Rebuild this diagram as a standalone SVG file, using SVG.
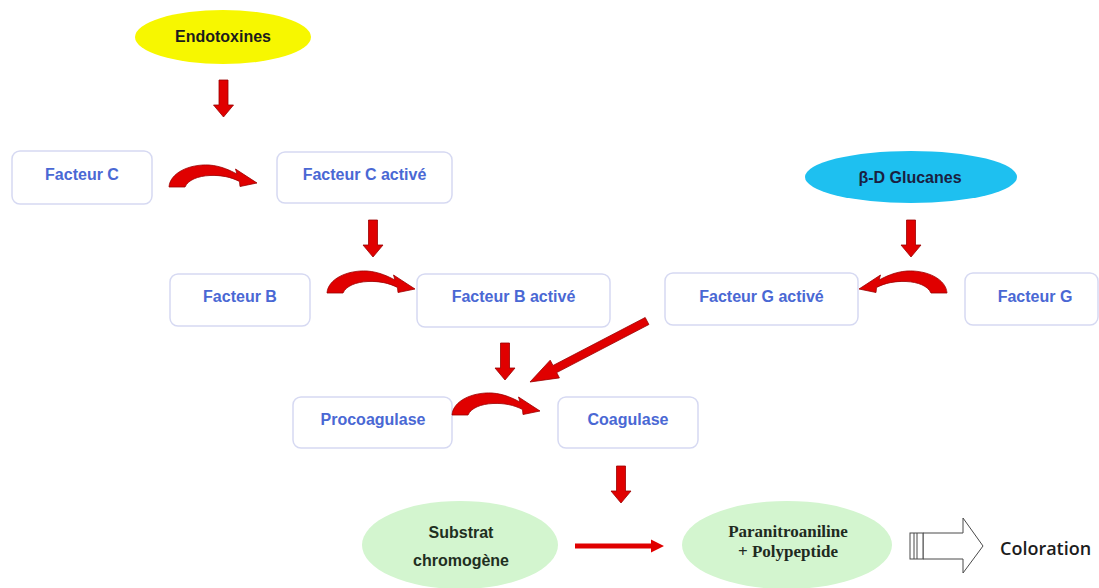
<svg xmlns="http://www.w3.org/2000/svg" xmlns:xlink="http://www.w3.org/1999/xlink" width="1099" height="588" viewBox="0 0 1099 588">
<style>
  .box { fill: #ffffff; stroke: #d6d9f2; stroke-width: 1.5; }
  .blue { font-family: "Liberation Sans", Arial, sans-serif; font-weight: bold; font-size: 16px; fill: #4a68d4; text-anchor: middle; }
  .dark { font-family: "Liberation Sans", Arial, sans-serif; font-weight: bold; font-size: 16px; fill: #1c1c1c; text-anchor: middle; }
  .serif { font-family: "Liberation Serif", "Times New Roman", serif; font-weight: bold; font-size: 17px; fill: #1f2a1f; text-anchor: middle; }
  .red { fill: #e00000; stroke: #9a0000; stroke-width: 0.8; }
</style>
<defs>
  <path id="down" d="M-4.5,0 H4.5 V25 H10 L0,37 L-10,25 H-4.5 Z"/>
  <path id="curve" d="M0,22 C1,8 20,-1 40,0 C53,1 62,6 68,9 L66.5,4 L88,18 L71,21.5 L70.5,16.5 C62,12 52,10 41,10.5 C29,11 19,15 16,22 Z"/>
</defs>
<rect width="1099" height="588" fill="#ffffff"/>

<g id="endotoxines">
  <ellipse cx="223" cy="37" rx="88" ry="27" fill="#f7f700"/>
  <text class="dark" x="223" y="42">Endotoxines</text>
</g>
<g id="glucanes">
  <ellipse cx="911" cy="177" rx="106" ry="26" fill="#1ec0f0"/>
  <text class="dark" x="910" y="183" style="fill:#1a2040">β-D Glucanes</text>
</g>
<g id="facteur-c">
  <rect class="box" x="12" y="151" width="140" height="53" rx="8"/>
  <text class="blue" x="82" y="180">Facteur C</text>
</g>
<g id="facteur-c-active">
  <rect class="box" x="277" y="152" width="175" height="51" rx="8"/>
  <text class="blue" x="364.5" y="180">Facteur C activé</text>
</g>
<g id="facteur-b">
  <rect class="box" x="170" y="274" width="140" height="52" rx="8"/>
  <text class="blue" x="240" y="302">Facteur B</text>
</g>
<g id="facteur-b-active">
  <rect class="box" x="417" y="274" width="193" height="53" rx="8"/>
  <text class="blue" x="513.5" y="302">Facteur B activé</text>
</g>
<g id="facteur-g-active">
  <rect class="box" x="665" y="273" width="193" height="52" rx="8"/>
  <text class="blue" x="761.5" y="302">Facteur G activé</text>
</g>
<g id="facteur-g">
  <rect class="box" x="965" y="273" width="133" height="52" rx="8"/>
  <text class="blue" x="1035" y="302">Facteur G</text>
</g>
<g id="procoagulase">
  <rect class="box" x="293" y="397" width="159" height="51" rx="8"/>
  <text class="blue" x="373" y="425">Procoagulase</text>
</g>
<g id="coagulase">
  <rect class="box" x="558" y="397" width="140" height="51" rx="8"/>
  <text class="blue" x="628" y="425">Coagulase</text>
</g>
<g id="substrat">
  <ellipse cx="460" cy="545" rx="98" ry="44" fill="#d3f5cf"/>
  <text class="dark" x="461" y="538" style="fill:#1f2f1f">Substrat</text>
  <text class="dark" x="461" y="566" style="fill:#1f2f1f">chromogène</text>
</g>
<g id="paranitroaniline">
  <ellipse cx="787" cy="545" rx="105" ry="44" fill="#d3f5cf"/>
  <text class="serif" x="788" y="537">Paranitroaniline</text>
  <text class="serif" x="788" y="557">+ Polypeptide</text>
</g>
<g id="coloration">
  <text x="1000" y="555" font-family="'Open Sans', 'Liberation Sans', sans-serif" font-weight="600" font-size="18" fill="#1c1c1c">Coloration</text>
</g>

<g id="connectors">
  <use xlink:href="#down" href="#down" class="red" x="223.5" y="80"/>
  <use xlink:href="#down" href="#down" class="red" x="373" y="220"/>
  <use xlink:href="#down" href="#down" class="red" x="911" y="220"/>
  <use xlink:href="#down" href="#down" class="red" x="505" y="343"/>
  <use xlink:href="#down" href="#down" class="red" x="621" y="466"/>

  <use xlink:href="#curve" href="#curve" class="red" transform="translate(169,165)"/>
  <use xlink:href="#curve" href="#curve" class="red" transform="translate(327,271)"/>
  <use xlink:href="#curve" href="#curve" class="red" transform="translate(452,393)"/>
  <use xlink:href="#curve" href="#curve" class="red" transform="translate(947,271) scale(-1,1)"/>

  <polygon class="red" points="645.2,317.5 648.9,324.5 556.7,372.6 559.4,377.9 530,382 550.2,360.2 553,365.5"/>
  <polygon fill="#e00000" points="575,543.5 651,543.5 651,539.5 664,546 651,552.5 651,548.5 575,548.5"/>

  <g fill="#ffffff" stroke="#4a4a4a" stroke-width="1">
    <path d="M923,533 H963 V518 L983,546 L963,573 V559 H923 Z"/>
    <rect x="910" y="533" width="13" height="26"/>
    <line x1="914" y1="533" x2="914" y2="559"/>
    <line x1="917" y1="533" x2="917" y2="559"/>
  </g>
</g>
</svg>
